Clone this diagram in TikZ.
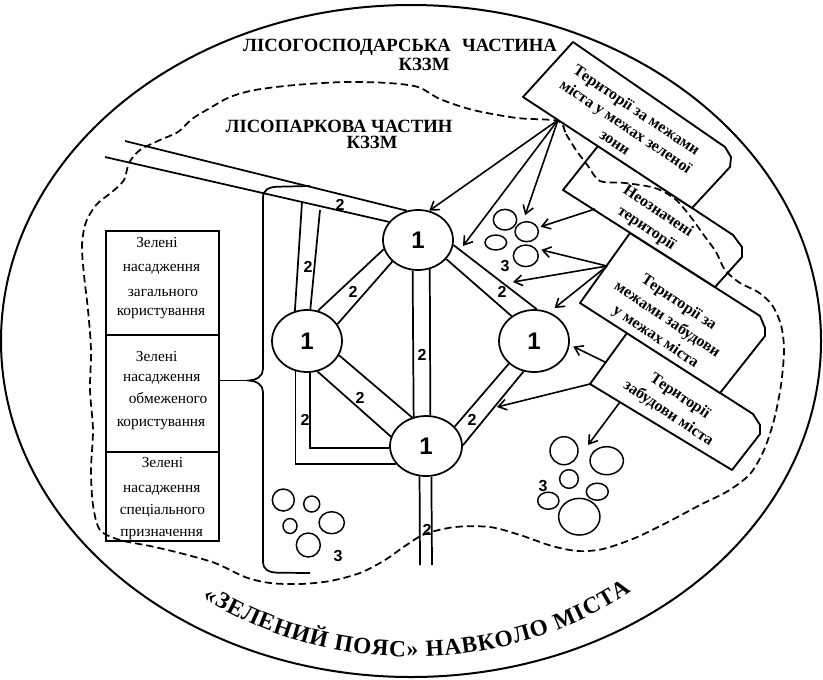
\documentclass[tikz,border=0pt]{standalone}
\usepackage{fontspec}
\setmainfont{Liberation Serif}[BoldFont={Liberation Serif Bold}]
\newfontfamily\numfont{Liberation Sans}[BoldFont={Liberation Sans Bold}]
\usetikzlibrary{shapes.geometric,arrows.meta,decorations.text}
\newcommand\arcfmt{\fontsize{17.5}{19}\selectfont\bfseries}
\tikzset{
  road/.style={line width=1.3pt},
  boxframe/.style={line width=1.4pt,fill=white,line join=round},
  zone/.style={line width=1.3pt,dash pattern=on 5.5pt off 3pt},
  hub/.style={draw,ellipse,line width=1.3pt,inner sep=0pt,font=\numfont\bfseries\fontsize{18}{18}\selectfont},
  bub/.style={draw,ellipse,line width=1.1pt,inner sep=0pt},
  lbl/.style={font=\numfont\bfseries\fontsize{12}{12}\selectfont,inner sep=0pt},
  arr/.style={line width=1.2pt,-{Straight Barb[length=6pt,width=8pt]}},
  boxtxt/.style={font=\rmfamily\bfseries\fontsize{12}{15.5}\selectfont,align=center,rotate=-34,inner sep=0pt},
  ltxt/.style={font=\rmfamily\fontsize{11.5}{13}\selectfont,anchor=base,inner sep=0pt},
  ttl/.style={font=\rmfamily\bfseries\fontsize{14}{15}\selectfont,anchor=base,inner sep=0pt},
  gbox/.style={draw,line width=1.3pt,anchor=north west,inner sep=0pt,minimum width=84.75pt}
}
\begin{document}
\begin{tikzpicture}[x=0.75pt,y=-0.75pt]
\useasboundingbox (0,0) rectangle (823,679);
% outer belt
\draw[line width=1.5pt] (411,341) ellipse [x radius=410, y radius=336];

% right boxes (back to front)
\draw[boxframe] (590,384) -- (627,333) -- (753,414) -- (760,425) -- (760,434) -- (732,470) -- cycle;
\draw[boxframe] (580,303) -- (630,233) -- (760,316) -- (765,328) -- (765,336) -- (720,393) -- cycle;
\draw[boxframe] (563,190) -- (598,146) -- (733,235) -- (742,247) -- (742,257) -- (715,287) -- cycle;
\draw[boxframe] (523,97) -- (573,42) -- (725,147) -- (731,157) -- (730,167) -- (692,208) -- cycle;

% dashed zone boundary
\draw[zone] plot[smooth cycle, tension=0.5] coordinates {
(558,121) (566,134) (576,150) (588,166) (600,181) (625,183) (655,188) (675,199) (690,216)
(703,234) (716,252) (725,270) (740,283) (758,292) (772,305) (781,325) (784,350) (781,385)
(774,420) (764,450) (750,474) (728,491) (700,505) (668,522) (635,538) (603,549) (578,551)
(552,546) (520,535) (490,527) (455,527) (425,534) (405,546) (385,560) (360,573) (330,581)
(300,584) (270,583) (245,577) (215,563) (180,553) (150,546) (120,540) (100,530) (93,505)
(91,470) (93,430) (90,390) (91,350) (88,310) (84,275) (82,245) (86,222) (97,204) (112,192)
(124,180) (129,163) (140,150) (160,140) (178,132) (192,119) (210,108) (230,97) (255,90)
(295,85) (345,82) (388,83) (418,87) (440,99) (473,110) (517,118)};

% left boxes
\node[gbox,minimum height=78pt] (g1) at (105,230) {};
\node[gbox,minimum height=87.75pt] (g2) at (105,334) {};
\node[gbox,minimum height=66.75pt] (g3) at (105,451) {};
\node[ltxt] (g1a) at (157,247) {Зелені};
\node[ltxt] (g1b) at (161.5,271.5) {насадження};
\node[ltxt] (g1c) at (163,296.5) {загального};
\node[ltxt] (g1d) at (161,315) {користування};
\node[ltxt] (g2a) at (156.7,361) {Зелені};
\node[ltxt] (g2b) at (161.7,381) {насадження};
\node[ltxt] (g2c) at (168,403) {обмеженого};
\node[ltxt] (g2d) at (161,426) {користування};
\node[ltxt] (g3a) at (162.5,467) {Зелені};
\node[ltxt] (g3b) at (161.7,492) {насадження};
\node[ltxt] (g3c) at (162.5,514) {спеціального};
\node[ltxt] (g3d) at (161.7,536) {призначення};

% brace
\coordinate (cusp) at (247,380.5);
\draw[road] (310,186) -- (278,186.7) .. controls (268,187) and (263,190) .. (263,198)
  -- (263,369) .. controls (263,376) and (257,380.5) .. (cusp)
  .. controls (257,380.5) and (263,385) .. (263,392) -- (263,562)
  .. controls (263,569) and (268,572.5) .. (278,572.7) -- (310,573);
\draw[road] (g2.east |- cusp) -- (cusp);

% hubs
\node[hub,minimum width=52.5pt,minimum height=45pt] (T) at (418,240) {1};
\node[hub,minimum width=52.5pt,minimum height=46.5pt] (L) at (307,341) {1};
\node[hub,minimum width=52.5pt,minimum height=46.5pt] (R) at (534,341) {1};
\node[hub,minimum width=54pt,minimum height=45pt] (B) at (426,446) {1};

% roads
\coordinate (Astart) at (125,141);
\coordinate (Bstart) at (105,157);
\coordinate (C1top) at (302,202);
\coordinate (C2top) at (320,210);
\coordinate (G1e) at (420,565);
\coordinate (G2e) at (432,565);
\draw[road] (Astart) -- (T.111);
\draw[road] (Bstart) -- (T.148);
\draw[road] (C1top) -- (L.112.5);
\draw[road] (C2top) -- (L.84);
\draw[road] (L.70) -- (T.195.4);
\draw[road] (L.29.5) -- (T.220.7);
\draw[road] (T.260.8) -- (B.113.4);
\draw[road] (T.292.5) -- (B.82);
\draw[road] (T.326.6) -- (R.132.7);
\draw[road] (T.352) -- (R.85.3);
\draw[road] (L.289.3) -- (B.165.5);
\draw[road] (L.336.6) -- (B.116);
\draw[road] (R.222.9) -- (B.34.4);
\draw[road] (R.251.7) -- (B.1.5);
\draw[road] (L.275.4) |- (B.183.6);
\draw[road] (L.249.2) |- (B.211.5);
\draw[road] (B.258.5) -- (G1e);
\draw[road] (B.280.9) -- (G2e);

% road labels
\node[lbl] (r1) at (340,205) {2};
\node[lbl] (r2) at (308,267) {2};
\node[lbl] (r3) at (353,292) {2};
\node[lbl] (r4) at (422,355) {2};
\node[lbl] (r5) at (502,292) {2};
\node[lbl] (r6) at (360,398) {2};
\node[lbl] (r7) at (472,420) {2};
\node[lbl] (r8) at (305,420) {2};
\node[lbl] (r9) at (427,530) {2};

% bubbles
\node[bub,minimum width=17.5pt,minimum height=15.5pt] (b1) at (505,219.7) {};
\node[bub,minimum width=17.5pt,minimum height=15pt] (b2) at (526.7,231.7) {};
\node[bub,minimum width=16.2pt,minimum height=11.2pt] (b3) at (495.8,242.5) {};
\node[bub,minimum width=18.7pt,minimum height=16.2pt] (b4) at (525.8,255.8) {};
\node[bub,minimum width=16.5pt,minimum height=16.5pt] (a1) at (283.3,500) {};
\node[bub,minimum width=12pt,minimum height=12pt] (a2) at (311.7,504) {};
\node[bub,minimum width=10.5pt,minimum height=11.2pt] (a3) at (290,526) {};
\node[bub,minimum width=19pt,minimum height=16.5pt] (a4) at (331.7,522.7) {};
\node[bub,minimum width=18pt,minimum height=18pt] (a5) at (308.3,545) {};
\node[bub,minimum width=21pt,minimum height=21pt] (c1) at (564,450.7) {};
\node[bub,minimum width=25pt,minimum height=21pt] (c2) at (606.7,460.7) {};
\node[bub,minimum width=14pt,minimum height=14pt] (c3) at (569,479) {};
\node[bub,minimum width=16.5pt,minimum height=12.8pt] (c4) at (597.3,491.7) {};
\node[bub,minimum width=16pt,minimum height=12.8pt] (c5) at (548.3,500.7) {};
\node[bub,minimum width=31pt,minimum height=27.5pt] (c6) at (579.3,516.7) {};
\node[lbl] (n3a) at (505,266) {3};
\node[lbl] (n3b) at (338,556) {3};
\node[lbl] (n3c) at (543,486) {3};

% arrows
\coordinate (S1) at (558,120);
\coordinate (S2) at (595,209);
\coordinate (S3) at (607,266);
\coordinate (S4a) at (605,362);
\coordinate (S4b) at (590,384);
\coordinate (S4c) at (620,402);
\coordinate (tipT2) at (463,246);
\coordinate (tipR2) at (513,282);
\coordinate (tipE) at (497,407);
\coordinate (tipC) at (588,445);
\draw[arr] (S1) -- (T.69);
\draw[arr] (S1) -- (tipT2);
\draw[arr,shorten >=5pt] (S1) -- (b2.110);
\draw[arr,shorten >=2pt] (S2) -- (b2.20);
\draw[arr,shorten >=4pt] (S3) -- (b4.35);
\draw[arr] (S3) -- (tipR2);
\draw[arr,shorten >=5pt] (S3) -- (R.62);
\draw[arr,shorten >=3pt] (S4a) -- (R.354);
\draw[arr] (S4b) -- (tipE);
\draw[arr] (S4c) -- (tipC);

% box texts
\node[boxtxt,font=\rmfamily\bfseries\fontsize{12}{14.5}\selectfont] (bx1) at (626,126) {Території за межами\\міста у межах зеленої\\зони};
\node[boxtxt] (bx2) at (652,220) {Неозначені\\території};
\node[boxtxt] (bx3) at (667,320) {Території за\\межами забудови\\у межах міста};
\node[boxtxt] (bx4) at (674,405) {Території\\забудови міста};

% titles
\node[ttl] (t1) at (400,51) {ЛІСОГОСПОДАРСЬКА\hspace{0.6em}ЧАСТИНА};
\node[ttl] (t2) at (424,70) {КЗЗМ};
\node[ttl] (t3) at (339,132) {ЛІСОПАРКОВА ЧАСТИН};
\node[ttl] (t4) at (372,148) {КЗЗМ};

% belt caption along the arc
\path[decorate,decoration={text along path,text={|\rmfamily\arcfmt|«ЗЕЛЕНИЙ ПОЯС» НАВКОЛО МІСТА},text align={fit to path}}]
  (203,598) arc[start angle=125.5,end angle=52.5,x radius=360,y radius=316];
\end{tikzpicture}
\end{document}
